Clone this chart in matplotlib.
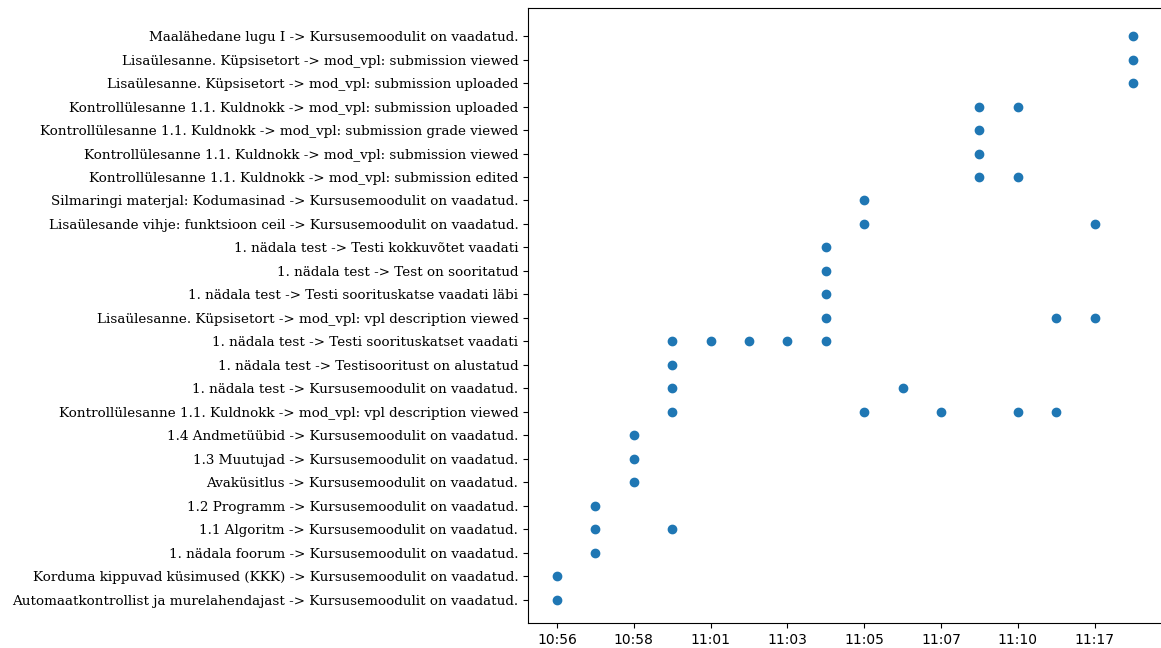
import numpy as np
import matplotlib
matplotlib.use("Agg")
import matplotlib.pyplot as plt

# event labels, bottom to top
events = [
    "Automaatkontrollist ja murelahendajast -> Kursusemoodulit on vaadatud.",
    "Korduma kippuvad küsimused (KKK) -> Kursusemoodulit on vaadatud.",
    "1. nädala foorum -> Kursusemoodulit on vaadatud.",
    "1.1 Algoritm -> Kursusemoodulit on vaadatud.",
    "1.2 Programm -> Kursusemoodulit on vaadatud.",
    "Avaküsitlus -> Kursusemoodulit on vaadatud.",
    "1.3 Muutujad -> Kursusemoodulit on vaadatud.",
    "1.4 Andmetüübid -> Kursusemoodulit on vaadatud.",
    "Kontrollülesanne 1.1. Kuldnokk -> mod_vpl: vpl description viewed",
    "1. nädala test -> Kursusemoodulit on vaadatud.",
    "1. nädala test -> Testisooritust on alustatud",
    "1. nädala test -> Testi soorituskatset vaadati",
    "Lisaülesanne. Küpsisetort -> mod_vpl: vpl description viewed",
    "1. nädala test -> Testi soorituskatse vaadati läbi",
    "1. nädala test -> Test on sooritatud",
    "1. nädala test -> Testi kokkuvõtet vaadati",
    "Lisaülesande vihje: funktsioon ceil -> Kursusemoodulit on vaadatud.",
    "Silmaringi materjal: Kodumasinad -> Kursusemoodulit on vaadatud.",
    "Kontrollülesanne 1.1. Kuldnokk -> mod_vpl: submission edited",
    "Kontrollülesanne 1.1. Kuldnokk -> mod_vpl: submission viewed",
    "Kontrollülesanne 1.1. Kuldnokk -> mod_vpl: submission grade viewed",
    "Kontrollülesanne 1.1. Kuldnokk -> mod_vpl: submission uploaded",
    "Lisaülesanne. Küpsisetort -> mod_vpl: submission uploaded",
    "Lisaülesanne. Küpsisetort -> mod_vpl: submission viewed",
    "Maalähedane lugu I -> Kursusemoodulit on vaadatud.",
]

# time slots (minutes), only every other one gets a label
times = ["10:56", "10:57", "10:58", "11:00", "11:01", "11:02", "11:03", "11:04",
         "11:05", "11:06", "11:07", "11:08", "11:10", "11:11", "11:17", "11:18"]

# (time, event index) pairs
log_times = ["10:56", "10:56",
             "10:57", "10:57", "11:00", "10:57",
             "10:58", "10:58", "10:58",
             "11:00", "11:05", "11:07", "11:10", "11:11",
             "11:00", "11:06",
             "11:00",
             "11:00", "11:01", "11:02", "11:03", "11:04",
             "11:04", "11:11", "11:17",
             "11:04", "11:04", "11:04",
             "11:05", "11:17",
             "11:05",
             "11:08", "11:10",
             "11:08", "11:08",
             "11:08", "11:10",
             "11:18", "11:18", "11:18"]
log_events = [0, 1,
              2, 3, 3, 4,
              5, 6, 7,
              8, 8, 8, 8, 8,
              9, 9,
              10,
              11, 11, 11, 11, 11,
              12, 12, 12,
              13, 14, 15,
              16, 16,
              17,
              18, 18,
              19, 20,
              21, 21,
              22, 23, 24]

xs = np.array([times.index(t) for t in log_times])
ys = np.array(log_events)

fig = plt.figure(figsize=(11.61, 6.48), dpi=100)
ax = fig.add_axes([528/1161, 1 - 623/648, (1175 - 528)/1161, (623 - 8)/648])
ax.scatter(xs, ys, color="#1f77b4")

ax.set_yticks(range(len(events)))
ax.set_yticklabels(events, fontfamily="DejaVu Serif", fontsize=9.7)
ax.set_xticks(range(0, len(times), 2))
ax.set_xticklabels(times[::2], fontsize=10)
ax.set_xlim(-0.755, 16.09)
ax.set_ylim(-1, 25.2)

fig.savefig("out.png", dpi=100)
